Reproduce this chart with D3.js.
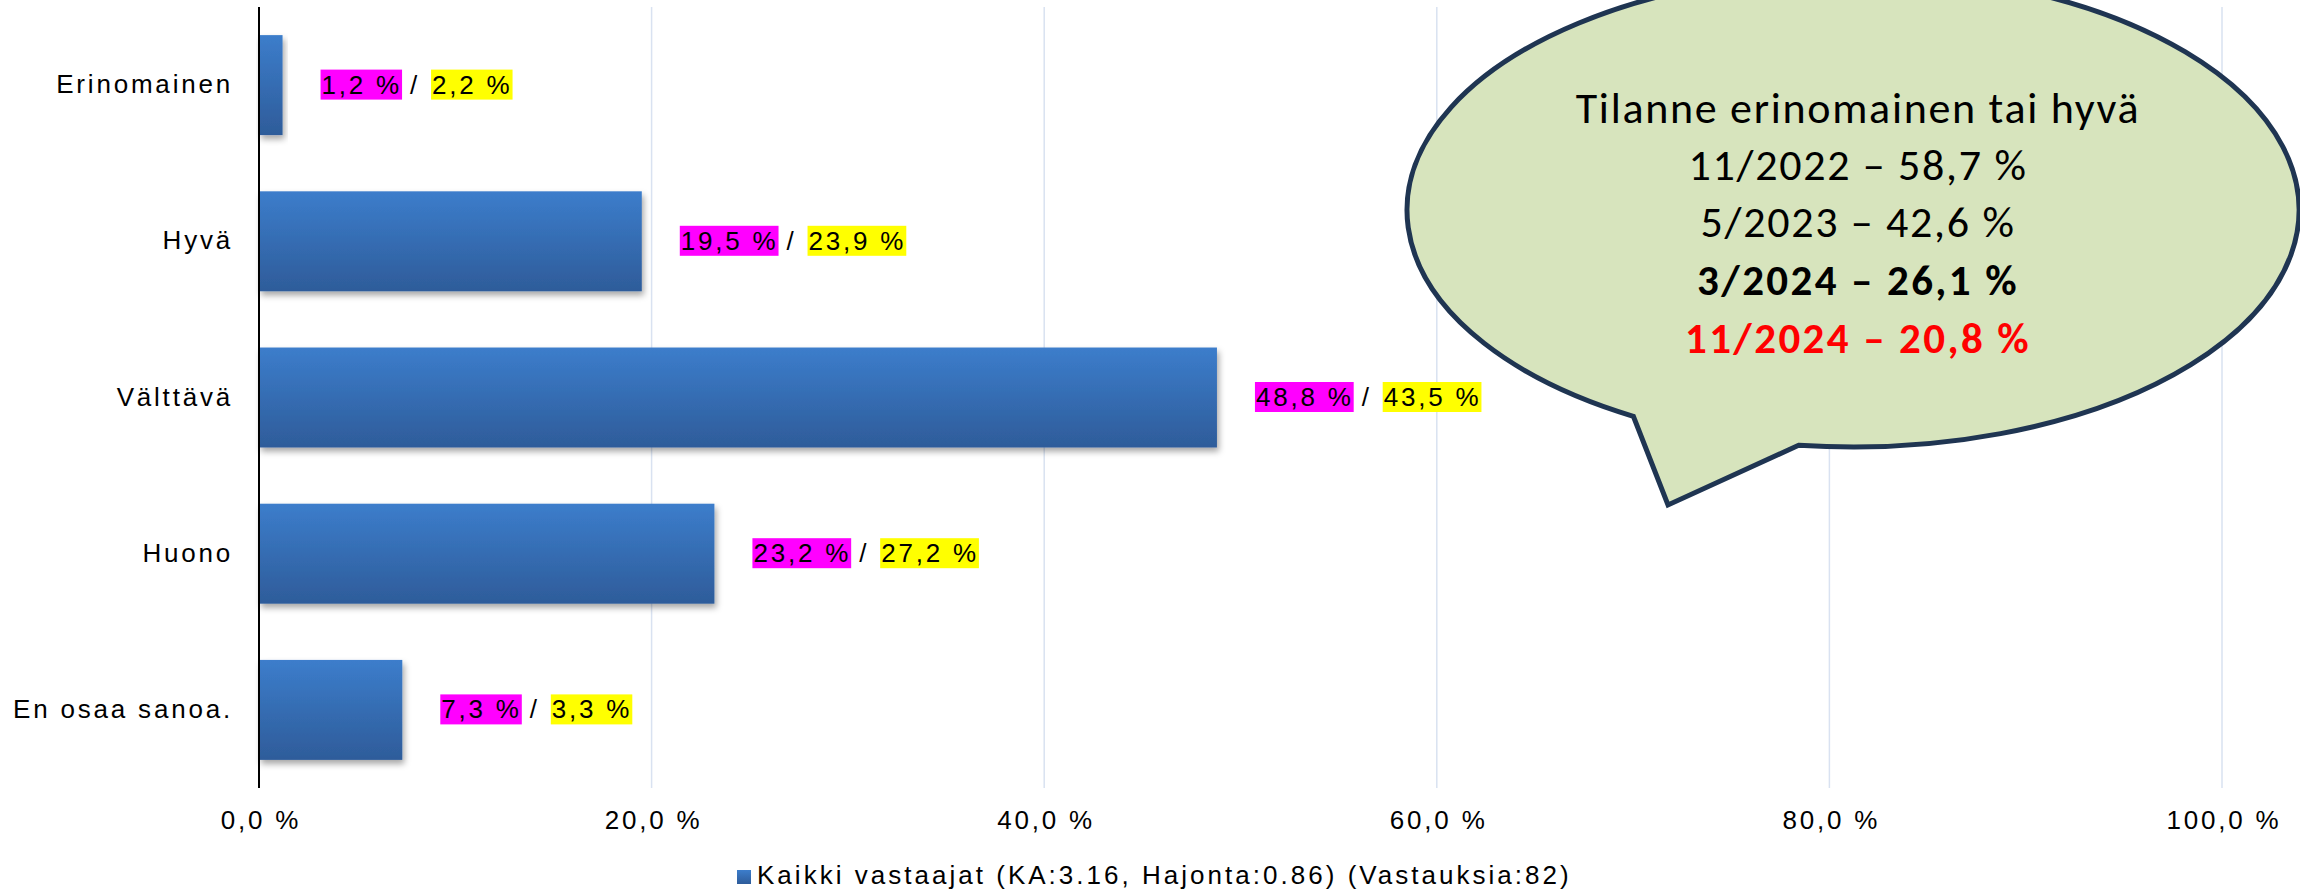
<!DOCTYPE html>
<html>
<head>
<meta charset="utf-8">
<script src="https://cdn.jsdelivr.net/npm/d3@7"></script>
<style>
  html, body { margin: 0; padding: 0; background: #ffffff; }
  svg { display: block; }
  .lbl { font-family: "Liberation Sans", Arial, sans-serif; font-size: 26px; letter-spacing: 2.8px; fill: #000; }
  .leg { letter-spacing: 3.02px; }
  .bub { font-family: Carlito, Lato, sans-serif; }
</style>
</head>
<body>
<svg id="chart" width="2300" height="889"></svg>
<script>
// ---- data ----
const categories = ["Erinomainen", "Hyvä", "Välttävä", "Huono", "En osaa sanoa."];
const currentValues = [1.2, 19.5, 48.8, 23.2, 7.3];
const previousValues = [2.2, 23.9, 43.5, 27.2, 3.3];
const xTicks = [0, 20, 40, 60, 80, 100];
const legendLabel = "Kaikki vastaajat (KA:3.16, Hajonta:0.86) (Vastauksia:82)";
const bubbleLines = [
  "Tilanne erinomainen tai hyvä",
  "11/2022 – 58,7 %",
  "5/2023 – 42,6 %",
  "3/2024 – 26,1 %",
  "11/2024 – 20,8 %"
];
const bubbleWeights = ["normal", "normal", "normal", "bold", "bold"];
const bubbleColors = ["#000000", "#000000", "#000000", "#000000", "#ff0000"];

// ---- layout ----
const svg = d3.select("#chart");
const plot = { left: 259, right: 2222, top: 7, bottom: 788 };

const x = d3.scaleLinear().domain([0, 100]).range([plot.left, plot.right]);
const y = d3.scaleBand().domain(categories).range([plot.top, plot.bottom])
  .paddingInner(0.36).paddingOuter(0.18);

const fmt = v => d3.format(".1f")(v).replace(".", ",") + " %";

// defs
const defs = svg.append("defs");
const grad = defs.append("linearGradient").attr("id", "barGrad")
  .attr("x1", 0).attr("y1", 0).attr("x2", 0).attr("y2", 1);
grad.append("stop").attr("offset", "0%").attr("stop-color", "#3c7dcb");
grad.append("stop").attr("offset", "100%").attr("stop-color", "#2e5c9a");
const shadow = defs.append("filter").attr("id", "shadow")
  .attr("x", "-10%").attr("y", "-20%").attr("width", "130%").attr("height", "150%");
shadow.append("feDropShadow").attr("dx", 2).attr("dy", 4).attr("stdDeviation", 3)
  .attr("flood-color", "#000").attr("flood-opacity", 0.35);

// gridlines
svg.append("g").selectAll("line").data(xTicks.filter(d => d > 0)).join("line")
  .attr("x1", d => x(d)).attr("x2", d => x(d))
  .attr("y1", plot.top).attr("y2", plot.bottom)
  .attr("stroke", "#d9e2f1").attr("stroke-width", 1.5);

// x axis tick labels (via d3 axis, no domain/ticks)
const xAxis = svg.append("g").attr("transform", `translate(0,${plot.bottom})`)
  .call(d3.axisBottom(x).tickValues(xTicks).tickSize(0).tickPadding(0).tickFormat(fmt));
xAxis.select(".domain").remove();
xAxis.selectAll("text").attr("class", "lbl").attr("fill", "#000")
  .attr("y", 41).attr("dy", null).attr("font-size", null).attr("font-family", null)
  .attr("dx", 1.4);

// bars
svg.append("g").selectAll("rect").data(categories).join("rect")
  .attr("x", x(0)).attr("y", d => y(d))
  .attr("width", (d, i) => x(currentValues[i]) - x(0))
  .attr("height", y.bandwidth())
  .attr("fill", "url(#barGrad)")
  .attr("filter", "url(#shadow)");

// y axis
const yAxis = svg.append("g").attr("transform", `translate(${x(0)},0)`)
  .call(d3.axisLeft(y).tickSize(0).tickPadding(26));
yAxis.select(".domain").attr("stroke", "#000").attr("stroke-width", 2)
  .attr("d", `M0,${plot.top}V${plot.bottom}`);
yAxis.selectAll("text").attr("class", "lbl").attr("fill", "#000")
  .attr("dy", "0.31em").attr("font-size", null).attr("font-family", null);

// data labels
const labG = svg.append("g");
categories.forEach((c, i) => {
  const cy = y(c) + y.bandwidth() / 2;
  const base = cy + 8.5;
  const xs = x(currentValues[i]) + 38;
  const g = labG.append("g");
  const r1 = g.append("rect").attr("fill", "#ff00ff");
  const t1 = g.append("text").attr("class", "lbl").attr("x", xs + 1).attr("y", base).text(fmt(currentValues[i]));
  const w1 = t1.node().getComputedTextLength();
  r1.attr("x", xs).attr("y", base - 24).attr("width", w1 + 1).attr("height", 30);
  g.append("text").attr("class", "lbl").attr("x", xs + w1 + 9).attr("y", base).text("/");
  const xs2 = xs + w1 + 30;
  const r2 = g.append("rect").attr("fill", "#ffff00");
  const t2 = g.append("text").attr("class", "lbl").attr("x", xs2 + 1).attr("y", base).text(fmt(previousValues[i]));
  const w2 = t2.node().getComputedTextLength();
  r2.attr("x", xs2).attr("y", base - 24).attr("width", w2 + 1).attr("height", 30);
});

// legend
const leg = svg.append("g");
leg.append("rect").attr("x", 737).attr("y", 870).attr("width", 14).attr("height", 14)
  .attr("fill", "url(#barGrad)");
leg.append("text").attr("class", "lbl leg").attr("x", 757).attr("y", 884).text(legendLabel);

// speech bubble
const bub = { cx: 1853, cy: 210, rx: 446, ry: 237 };
const ep = deg => {
  const a = deg * Math.PI / 180;
  return [bub.cx + bub.rx * Math.cos(a), bub.cy + bub.ry * Math.sin(a)];
};
const p1 = ep(119.5), p2 = ep(97);
const tip = [1668, 505];
const bubbleD = `M${p2[0]},${p2[1]} A${bub.rx},${bub.ry} 0 1 0 ${p1[0]},${p1[1]} L${tip[0]},${tip[1]} Z`;
svg.append("path").attr("d", bubbleD)
  .attr("fill", "#d7e4bd").attr("stroke", "#1f3552").attr("stroke-width", 5)
  .attr("stroke-linejoin", "miter");

const lineBase = [123, 180, 237, 295, 353];
svg.append("g").selectAll("text").data(bubbleLines).join("text")
  .attr("class", "bub")
  .attr("x", 1858).attr("y", (d, i) => lineBase[i])
  .attr("text-anchor", "middle")
  .attr("font-size", (d, i) => bubbleWeights[i] === "bold" ? 43 : 44)
  .attr("letter-spacing", (d, i) => bubbleWeights[i] === "bold" ? 2.4 : 1.7)
  .attr("font-weight", (d, i) => bubbleWeights[i])
  .attr("fill", (d, i) => bubbleColors[i])
  .text(d => d);
</script>
</body>
</html>
